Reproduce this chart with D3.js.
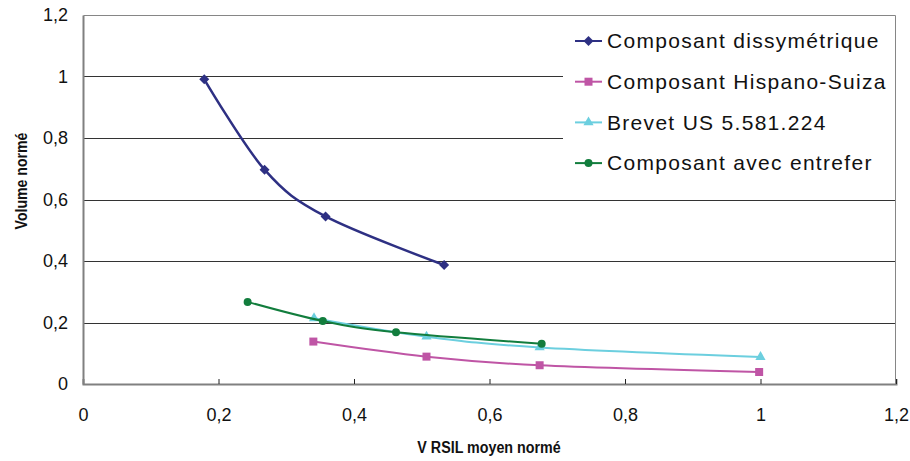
<!DOCTYPE html>
<html>
<head>
<meta charset="utf-8">
<script src="https://cdn.jsdelivr.net/npm/d3@7"></script>
<style>
    html, body { margin: 0; padding: 0; background: #fff; }
    svg { display: block; font-family: "Liberation Sans", Arial, sans-serif; }
</style>
</head>
<body>
<div id="chart"></div>
<script>
// data
const seriesNames = ['Composant dissymétrique', 'Composant Hispano-Suiza', 'Brevet US 5.581.224', 'Composant avec entrefer'];
const dissymX = [0.179, 0.268, 0.358, 0.533];
const dissymY = [0.991, 0.697, 0.545, 0.387];
const hispanoX = [0.340, 0.507, 0.674, 0.998];
const hispanoY = [0.138, 0.089, 0.061, 0.039];
const brevetX = [0.341, 0.507, 0.674, 1.0];
const brevetY = [0.214, 0.154, 0.119, 0.088];
const entreferX = [0.243, 0.354, 0.462, 0.677];
const entreferY = [0.267, 0.205, 0.168, 0.131];
const xTicks = [0, 0.2, 0.4, 0.6, 0.8, 1, 1.2];
const yTicks = [0, 0.2, 0.4, 0.6, 0.8, 1, 1.2];

// layout
const width = 910, height = 461;
const margin = {t:15, r:14, b:77, l:83};
const w = width - margin.l - margin.r;
const h = height - margin.t - margin.b;

const colors = ['#2e3083', '#bf55a5', '#6ccfdf', '#127d3d'];
const symbols = [d3.symbolSquare, d3.symbolSquare, d3.symbolTriangle, d3.symbolCircle];
const symbolSizes = [50, 64, 45, 50];
const symbolRotate = [45, 0, 0, 0];
const lineWidths = [2.5, 2, 2, 2];

const series = [
    [dissymX, dissymY],
    [hispanoX, hispanoY],
    [brevetX, brevetY],
    [entreferX, entreferY]
].map(([xs, ys], i) => ({
    name: seriesNames[i],
    values: xs.map((x, j) => ({x: x, y: ys[j]}))
}));

const fmt = d => String(d).replace('.', ',');

const svg = d3.select('#chart')
    .append('svg')
    .attr('width', width)
    .attr('height', height);

const plot = svg.append('g')
    .attr('transform', `translate(${margin.l},${margin.t})`);

// scales
const scaleX = d3.scaleLinear().domain([0, 1.2]).range([0, w]);
const scaleY = d3.scaleLinear().domain([0, 1.2]).range([h, 0]);

// gridlines
plot.append('g')
    .selectAll('line')
    .data(yTicks.filter(d => d > 0 && d < 1.2))
    .enter()
    .append('line')
    .attr('x1', 0)
    .attr('x2', w)
    .attr('y1', d => Math.round(scaleY(d)) + 0.5)
    .attr('y2', d => Math.round(scaleY(d)) + 0.5)
    .style('stroke', '#333')
    .style('stroke-width', 1);

// plot frame (top + right)
plot.append('path')
    .attr('d', `M0.5,0.5H${w - 0.5}V${h}`)
    .style('fill', 'none')
    .style('stroke', '#868686')
    .style('stroke-width', 1);

// x axis, ticks inside
const axisX = d3.axisBottom(scaleX)
    .tickValues(xTicks)
    .tickSize(-5)
    .tickPadding(24)
    .tickFormat(fmt);
const gx = plot.append('g')
    .attr('transform', `translate(0,${h})`)
    .call(axisX);
gx.select('.domain').style('stroke', '#808080').style('stroke-width', 2);
gx.selectAll('.tick line').style('stroke', '#222');
gx.selectAll('.tick text')
    .style('font-size', '18px')
    .style('fill', '#111');

// y axis
const axisY = d3.axisLeft(scaleY)
    .tickValues(yTicks)
    .tickSize(0)
    .tickPadding(15)
    .tickFormat(fmt);
const gy = plot.append('g').call(axisY);
gy.select('.domain').style('stroke', '#808080').style('stroke-width', 2);
gy.selectAll('.tick text')
    .style('font-size', '18px')
    .style('fill', '#111');

// axis titles (condensed look of the original)
svg.append('text')
    .attr('transform', 'translate(489,453) scale(0.84,1)')
    .attr('text-anchor', 'middle')
    .style('font-weight', 'bold')
    .style('font-size', '17px')
    .style('fill', '#111')
    .text('V RSIL moyen normé');

svg.append('text')
    .attr('transform', 'translate(27,181) rotate(-90) scale(0.83,1)')
    .attr('text-anchor', 'middle')
    .style('font-weight', 'bold')
    .style('font-size', '17px')
    .style('fill', '#111')
    .text('Volume normé');

// lines
const line = d3.line()
    .x(d => scaleX(d.x))
    .y(d => scaleY(d.y))
    .curve(d3.curveCardinal.tension(0));

const groups = plot.selectAll('.series')
    .data(series)
    .enter()
    .append('g')
    .attr('class', 'series');

groups.append('path')
    .attr('d', d => line(d.values))
    .style('fill', 'none')
    .style('stroke', (d, i) => colors[i])
    .style('stroke-width', (d, i) => lineWidths[i]);

groups.each(function(d, i) {
    d3.select(this).selectAll('path.marker')
        .data(d.values)
        .enter()
        .append('path')
        .attr('class', 'marker')
        .attr('d', d3.symbol().type(symbols[i]).size(symbolSizes[i]))
        .attr('transform', p => `translate(${scaleX(p.x)},${scaleY(p.y)}) rotate(${symbolRotate[i]})`)
        .style('fill', colors[i]);
});

// legend
const legend = svg.append('g')
    .attr('transform', 'translate(563,16)');
legend.append('rect')
    .attr('width', 332)
    .attr('height', 176)
    .style('fill', '#fff');

const item = legend.selectAll('.item')
    .data(series)
    .enter()
    .append('g')
    .attr('class', 'item')
    .attr('transform', (d, i) => `translate(0,${25 + i * 40.7})`);

item.append('line')
    .attr('x1', 12)
    .attr('x2', 39)
    .style('stroke', (d, i) => colors[i])
    .style('stroke-width', 2);

item.append('path')
    .attr('d', (d, i) => d3.symbol().type(symbols[i]).size(symbolSizes[i])())
    .attr('transform', (d, i) => `translate(25.5,0) rotate(${symbolRotate[i]})`)
    .style('fill', (d, i) => colors[i]);

item.append('text')
    .attr('x', 44)
    .attr('dy', '0.35em')
    .style('font-size', '21px')
    .style('letter-spacing', '1.3px')
    .style('fill', '#111')
    .text(d => d.name);
</script>
</body>
</html>
